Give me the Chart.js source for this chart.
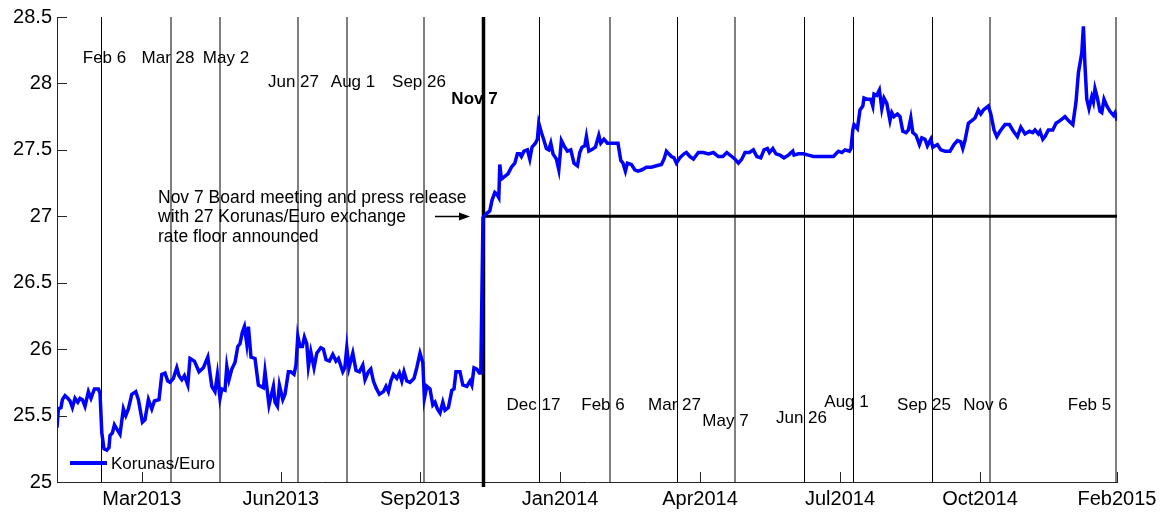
<!DOCTYPE html>
<html>
<head>
<meta charset="utf-8">
<script src="https://cdn.jsdelivr.net/npm/chart.js@4.4.1/dist/chart.umd.min.js"></script>
<style>
  html, body { margin: 0; padding: 0; background: #fff; }
  #wrap { width: 1164px; height: 514px; }
</style>
</head>
<body>
<div id="wrap"><canvas id="c" width="1164" height="514"></canvas></div>
<script>
// observation index (trading days from start of Jan 2013) and CZK per EUR
const obsIdx = [
  0,0.7,2,2.7,4,5.4,6.5,7.7,9,10.4,11.5,12.7,14,15.7,17,18.7,20.7,21.5,22.4,23.5,
  24.9,26,26.5,27.7,28.7,29.9,31.5,33.2,34.4,35.7,37.4,39.4,40.7,42.7,44,45.7,47.4,48.7,51,52.4,
  54,55.4,56.5,58.2,59.9,61,62.4,63.7,65.4,66.5,68.7,71,73.2,75.4,77.4,79,80.2,81.5,82.4,84,
  84.9,86,87.4,89,90.4,91.5,92.7,93.7,94.9,95.7,97,99,100.7,103.2,104,106,108.2,
  109,110.2,111.2,112.9,114,115.7,116.9,118.5,119.5,120.4,121.5,122.7,123.7,124.9,125.7,126.9,128.5,129.9,131.9,133.2,
  134.5,136.2,137.9,139.5,140.7,142.9,143.9,144.9,146,147.9,149.5,151.2,152.9,154,155.7,156.9,158.2,159.5,161.2,163.2,
  164.5,165.7,166.9,168.2,169.9,171.2,172.4,173.5,174.9,176.5,178.5,179.9,181.5,182.9,183.7,184.9,186.5,187.9,189,190.2,
  191.5,192.9,194,195.7,197.4,198.5,199.5,201.5,202.9,204.9,206.5,207.4,208.5,209.9,211.2,211.9,
  213,214.7,216.4,217.5,218.9,219.7,220.9,221.4,222.2,223.9,225.5,227.2,228.9,230.2,231.4,232.2,233.5,235.2,236.4,237.5,
  239.2,240.2,240.9,242.2,243.5,244.7,245.9,246.9,248,249.7,250.9,252.2,253.5,255.2,256.9,258.5,260.2,261.4,262.5,263.9,
  264.7,265.9,267.2,269.2,270.9,271.9,273.5,275.2,277.2,279.2,280.5,281.9,283,284.2,285.2,287.2,288.9,290.5,292.5,294.7,
  297.2,299.7,302.2,303.5,304.7,305.9,307.2,308.5,309.7,311.4,313.5,314.7,316.4,
  318.2,320.7,323.2,325.7,328.2,330.7,332.9,334.9,337.4,339,340.7,342.4,344,346.2,348.2,349.9,351.9,353.5,355.2,356.2,
  357.9,359.5,361.5,363.5,365.7,367.9,368.5,370.7,373.2,375.7,378.2,380.7,383.2,385.7,388.2,390.7,392.4,394,396.2,397,
  397.9,398.5,400.2,401.5,402.9,403.5,405.2,406.9,407.9,408.5,409.9,411.2,412.4,413.5,414.9,416.5,417.4,418.5,420.2,
  421.5,422.9,424.5,425.7,426.9,427.9,429.5,431.2,432.4,434,435.2,436.9,437.9,440.2,441.9,444,446.5,448.5,450.2,451.9,
  452.9,454,455.7,457.4,459,460.7,461.9,463.2,465.7,466.9,468.5,469.9,471.5,474,476.2,478.2,480.2,481.9,484,486.2,
  487.9,489,490.7,491.5,492.9,494,495.7,497.9,499.5,501.5,504,505.7,507.9,509.5,510.7,512.4,513.2,514,514.9,516,
  517.4,518.2,519,520.2,521.5,522.4,523.5,524.9,526.5,528.2,529,530
];
const rate = [
  25.41,25.55,25.56,25.62,25.65,25.63,25.61,25.56,25.63,25.60,25.63,25.62,25.57,25.68,25.63,25.70,25.70,25.67,25.37,25.25,
  25.24,25.26,25.35,25.37,25.43,25.40,25.36,25.55,25.50,25.55,25.66,25.68,25.62,25.45,25.47,25.62,25.55,25.61,25.62,25.81,
  25.82,25.76,25.75,25.78,25.86,25.80,25.77,25.80,25.73,25.93,25.91,25.83,25.86,25.94,25.72,25.68,25.81,25.63,25.70,25.69,
  25.87,25.77,25.85,25.90,26.02,26.04,26.13,26.17,26.04,26.17,25.94,25.93,25.73,25.71,25.83,25.58,25.72,
  25.60,25.57,25.73,25.62,25.66,25.83,25.83,25.81,25.88,26.10,26.02,26.02,26.09,26.04,25.87,25.98,25.86,25.97,26.01,26.00,
  25.92,25.91,25.96,25.91,25.93,25.83,25.86,26.01,25.86,25.97,25.84,25.83,25.88,25.77,25.83,25.85,25.76,25.71,25.66,25.68,
  25.72,25.68,25.76,25.81,25.78,25.82,25.76,25.83,25.76,25.75,25.78,25.86,25.97,25.90,25.63,25.72,25.70,25.58,25.60,25.55,
  25.52,25.60,25.54,25.56,25.69,25.70,25.83,25.83,25.73,25.72,25.76,25.73,25.86,25.85,25.82,25.82,
  26.99,27.02,27.04,27.12,27.18,27.17,27.14,27.39,27.28,27.30,27.32,27.37,27.40,27.47,27.47,27.45,27.49,27.50,27.43,27.52,
  27.55,27.58,27.70,27.63,27.57,27.51,27.50,27.55,27.47,27.43,27.35,27.57,27.53,27.49,27.50,27.40,27.38,27.48,27.52,27.53,
  27.60,27.49,27.50,27.52,27.61,27.55,27.58,27.55,27.55,27.55,27.55,27.42,27.40,27.34,27.40,27.39,27.35,27.34,27.35,27.37,
  27.37,27.38,27.39,27.43,27.49,27.47,27.45,27.44,27.40,27.44,27.47,27.48,27.45,
  27.43,27.48,27.48,27.47,27.48,27.45,27.45,27.48,27.45,27.43,27.40,27.43,27.48,27.48,27.50,27.45,27.44,27.50,27.51,27.48,
  27.51,27.47,27.46,27.44,27.46,27.49,27.46,27.47,27.47,27.46,27.45,27.45,27.45,27.45,27.45,27.49,27.48,27.50,27.49,27.51,
  27.65,27.69,27.66,27.80,27.83,27.89,27.88,27.88,27.83,27.92,27.91,27.95,27.81,27.89,27.85,27.72,27.78,27.75,27.77,
  27.75,27.64,27.63,27.65,27.74,27.63,27.61,27.54,27.59,27.58,27.53,27.58,27.52,27.54,27.50,27.49,27.49,27.54,27.57,27.56,
  27.51,27.57,27.70,27.72,27.74,27.80,27.77,27.80,27.83,27.77,27.65,27.60,27.64,27.69,27.69,27.64,27.60,27.67,27.62,27.64,
  27.63,27.65,27.62,27.64,27.58,27.60,27.65,27.65,27.70,27.72,27.75,27.72,27.69,27.86,28.08,28.23,28.43,28.13,27.88,27.81,
  27.90,27.86,27.96,27.89,27.79,27.78,27.88,27.83,27.79,27.76,27.78,27.72
];

// x axis ticks
const tickPos = [42.4, 111.9, 181.5, 251.5, 321.5, 391.5, 461.5, 530];
const tickLabels = ['Mar2013', 'Jun2013', 'Sep2013', 'Jan2014', 'Apr2014', 'Jul2014', 'Oct2014', 'Feb2015'];

// board meetings
const eventNames  = ['Feb 6','Mar 28','May 2','Jun 27','Aug 1','Sep 26','Nov 7','Dec 17','Feb 6','Mar 27','May 7','Jun 26','Aug 1','Sep 25','Nov 6','Feb 5'];
const eventX      = [22, 56.75, 81.5, 120.3, 145, 183.7, 212.75, 240.75, 276.5, 310, 339, 373.5, 398, 437.5, 466.25, 529.5];
const eventKind   = ['k','g','g','g','g','g','bold','k','g','k','g','k','k','k','g','g'];
const eventLabelX = [23.75, 55.5, 84.5, 118.25, 148, 181, 208.75, 238.25, 273, 308.75, 334.25, 372.25, 394.75, 433.5, 464.25, 516.25];
const eventLabelY = [28.19, 28.19, 28.19, 28.01, 28.01, 28.01, 27.88, 25.58, 25.58, 25.58, 25.46, 25.48, 25.60, 25.58, 25.58, 25.58];

const floorValue = 27;
const floorStart = 212.75;
const noteLines = ['Nov 7 Board meeting and press release', 'with 27 Korunas/Euro exchange', 'rate floor announced'];
const noteX = 50.5;
const noteY = [27.14, 26.99, 26.84];
const arrowFrom = 189, arrowTo = 206.5;

const FONT = '"Liberation Sans", Arial, Helvetica, sans-serif';

const overlay = {
  id: 'overlay',
  beforeDatasetsDraw(chart) {
    const {ctx, chartArea: a, scales: {x}} = chart;
    ctx.save();
    eventX.forEach((v, i) => {
      const k = eventKind[i];
      const px = Math.round(x.getPixelForValue(v)) + (k === 'g' ? 0 : 0.5);
      ctx.strokeStyle = k === 'g' ? '#808080' : '#000';
      ctx.lineWidth = k === 'g' ? 2 : (k === 'bold' ? 3.5 : 1);
      ctx.beginPath();
      ctx.moveTo(px, a.top);
      ctx.lineTo(px, k === 'bold' ? a.bottom + 5 : a.bottom);
      ctx.stroke();
    });
    ctx.restore();
  },
  afterDraw(chart) {
    const {ctx, chartArea: a, scales: {x, y}} = chart;
    ctx.save();
    // inward tick marks
    ctx.strokeStyle = '#262626';
    ctx.lineWidth = 1;
    tickPos.forEach(v => {
      const px = Math.round(x.getPixelForValue(v)) + 0.5;
      ctx.beginPath(); ctx.moveTo(px, a.bottom); ctx.lineTo(px, a.bottom - 10); ctx.stroke();
    });
    y.ticks.forEach(t => {
      const py = Math.round(y.getPixelForValue(t.value)) + 0.5;
      ctx.beginPath(); ctx.moveTo(a.left, py); ctx.lineTo(a.left + 10, py); ctx.stroke();
    });

    // event labels
    ctx.fillStyle = '#000';
    ctx.textAlign = 'center';
    ctx.textBaseline = 'middle';
    eventNames.forEach((n, i) => {
      ctx.font = (eventKind[i] === 'bold' ? 'bold ' : '') + '17px ' + FONT;
      ctx.fillText(n, x.getPixelForValue(eventLabelX[i]), y.getPixelForValue(eventLabelY[i]));
    });

    // note text + arrow
    ctx.font = '17.5px ' + FONT;
    ctx.textAlign = 'left';
    noteLines.forEach((s, i) => ctx.fillText(s, x.getPixelForValue(noteX), y.getPixelForValue(noteY[i])));
    const ay = Math.round(y.getPixelForValue(floorValue)) + 0.5;
    const ax0 = x.getPixelForValue(arrowFrom), ax1 = x.getPixelForValue(arrowTo);
    ctx.strokeStyle = '#000';
    ctx.lineWidth = 1.5;
    ctx.beginPath(); ctx.moveTo(ax0, ay); ctx.lineTo(ax1 - 8, ay); ctx.stroke();
    ctx.beginPath();
    ctx.moveTo(ax1, ay); ctx.lineTo(ax1 - 11, ay - 4); ctx.lineTo(ax1 - 11, ay + 4); ctx.closePath();
    ctx.fill();

    // legend
    const lx = a.left + 13, ly = 463;
    ctx.strokeStyle = '#0000ff';
    ctx.lineWidth = 4;
    ctx.beginPath(); ctx.moveTo(lx, ly); ctx.lineTo(lx + 37, ly); ctx.stroke();
    ctx.fillStyle = '#000';
    ctx.font = '17px ' + FONT;
    ctx.fillText('Korunas/Euro', lx + 41, ly + 1);
    ctx.restore();
  }
};

new Chart(document.getElementById('c').getContext('2d'), {
  type: 'line',
  data: {
    datasets: [
      {
        label: 'Korunas/Euro',
        data: obsIdx.map((v, i) => ({x: v, y: rate[i]})),
        borderColor: '#0000ff',
        borderWidth: 3.5,
        pointRadius: 0,
        tension: 0,
        fill: false
      },
      {
        label: 'floor',
        data: [{x: floorStart, y: floorValue}, {x: obsIdx[obsIdx.length - 1], y: floorValue}],
        borderColor: '#000',
        borderWidth: 3,
        pointRadius: 0,
        fill: false
      }
    ]
  },
  options: {
    responsive: false,
    animation: false,
    events: [],
    layout: {padding: {top: 15, right: 47, left: 0, bottom: 0}},
    plugins: {legend: {display: false}, tooltip: {enabled: false}},
    scales: {
      x: {
        type: 'linear',
        min: 0,
        max: 530,
        afterBuildTicks: s => { s.ticks = tickPos.map(v => ({value: v})); },
        afterFit: s => { s.height = 32; },
        grid: {display: false, drawTicks: false},
        border: {display: true, color: '#262626', width: 1},
        ticks: {
          autoSkip: false,
          maxRotation: 0,
          padding: 5,
          color: '#000',
          font: {family: FONT, size: 20},
          callback: v => tickLabels[tickPos.indexOf(v)]
        }
      },
      y: {
        min: 25,
        max: 28.5,
        afterFit: s => { s.width = 57; },
        grid: {display: false, drawTicks: false},
        border: {display: true, color: '#262626', width: 1},
        ticks: {
          stepSize: 0.5,
          padding: 5,
          color: '#000',
          font: {family: FONT, size: 20},
          callback: v => String(Math.round(v * 10) / 10)
        }
      }
    }
  },
  plugins: [overlay]
});
</script>
</body>
</html>
